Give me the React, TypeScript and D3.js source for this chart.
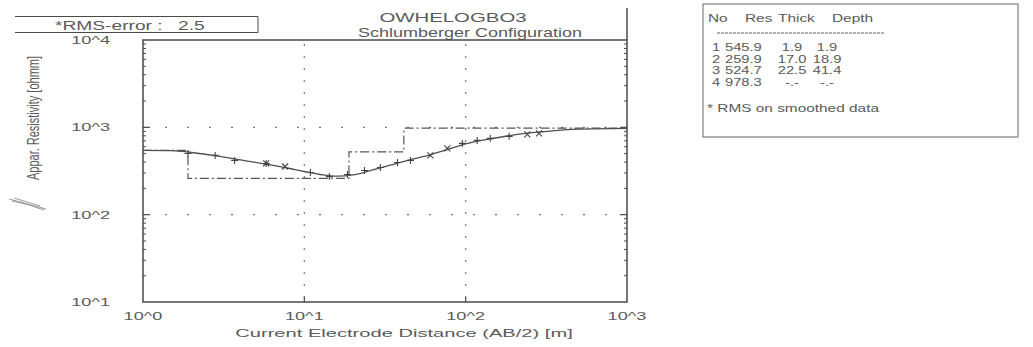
import React from "react";
import * as d3 from "d3";

// Observed apparent resistivity (field sounding)
const abHalf = [1.9, 2.8, 3.7, 5.8, 7.6, 10.9, 14.3, 18.5, 23.6, 29.6, 37.8, 45.5, 60.4, 77, 95.4, 118, 142, 186, 241, 285];
const appRes = [502, 477, 418, 386, 356, 304, 273, 288, 320, 347, 396, 418, 477, 574, 655, 709, 748, 788, 831, 853];
const markerKind = ["+", "+", "+", "*", "x", "+", "+", "+", "+", "+", "+", "+", "x", "x", "+", "+", "+", "+", "x", "x"];

// Calculated model response
const curveAB = [1, 1.5, 2, 3, 4, 6, 8, 10, 13, 16, 20, 25, 30, 40, 50, 60, 80, 100, 150, 200, 300, 500, 1000];
const curveRho = [546, 542, 515, 465, 425, 375, 340, 312, 285, 276, 285, 315, 345, 400, 445, 485, 570, 645, 750, 820, 890, 955, 975];

// Layered model
const layerNo = ["1", "2", "3", "4"];
const layerRes = [545.9, 259.9, 524.7, 978.3];
const layerThick = ["1.9", "17.0", "22.5", "-.-"];
const layerDepth = ["1.9", "18.9", "41.4", "-.-"];
const depths = [1.9, 18.9, 41.4];

const xTicks = [1, 10, 100, 1000];
const xTickLabels = ["10^0", "10^1", "10^2", "10^3"];
const yTicks = [10000, 1000, 100, 10];
const yTickLabels = ["10^4", "10^3", "10^2", "10^1"];

const rmsError = "2.5";
const siteName = "OWHELOGBO3";
const configName = "Schlumberger Configuration";

const INK = "#4a4a4a";
const TXT = "#5a5a5a";
const FONT = "'Liberation Sans', Arial, sans-serif";

function SText(props: {
  x: number; y: number; children: string; size?: number; sx?: number;
  anchor?: "start" | "middle" | "end"; rotate?: number;
}) {
  const { x, y, children, size = 11, sx = 1.65, anchor = "start", rotate = 0 } = props;
  return (
    <text
      transform={`translate(${x},${y}) scale(${sx},1)${rotate ? ` rotate(${rotate})` : ""}`}
      textAnchor={anchor}
      fontSize={size}
      fontFamily={FONT}
      fill={TXT}
    >
      {children}
    </text>
  );
}

export default function App() {
  const left = 143, right = 627, top = 40, bottom = 302;
  const x = d3.scaleLog().domain([1, 1000]).range([left, right]);
  const y = d3.scaleLog().domain([10, 10000]).range([bottom, top]);

  const curve = d3
    .line<number>()
    .x((_, i) => x(curveAB[i]))
    .y((d) => y(d))
    .curve(d3.curveMonotoneX)(curveRho) as string;

  // Step outline of the layered model
  const stepPts: [number, number][] = [];
  let xs = 1;
  layerRes.forEach((r, i) => {
    const xe = i < depths.length ? depths[i] : 1000;
    stepPts.push([x(xs), y(r)], [x(xe), y(r)]);
    xs = xe;
  });
  const step = d3.line()(stepPts) as string;

  const minorTicks: number[] = [];
  for (let e = 1; e < 10000; e *= 10) for (let k = 2; k <= 9; k++) minorTicks.push(e * k);

  return (
    <svg
      width={1033}
      height={347}
      style={{ position: "absolute", left: 0, top: 0, background: "#fff" }}
    >
      <rect width={1033} height={347} fill="#fff" />

      {/* RMS error box */}
      <path d="M15,16.5 H258 V32.5 H15" fill="none" stroke={INK} strokeWidth={1} />
      <SText x={55} y={30} size={12} sx={1.6}>*RMS-error :</SText>
      <SText x={178} y={30} size={12} sx={1.6}>{rmsError}</SText>

      {/* titles */}
      <SText x={453} y={22} size={12} sx={1.7} anchor="middle">{siteName}</SText>
      <SText x={470} y={37} size={12} sx={1.5} anchor="middle">{configName}</SText>

      {/* dotted grid */}
      {[1000, 100].map((v) => (
        <line key={"gy" + v} x1={left} x2={right} y1={y(v)} y2={y(v)} stroke="#777" strokeWidth={1.2} strokeDasharray="2,20" />
      ))}
      {[10, 100].map((v) => (
        <line key={"gx" + v} x1={x(v)} x2={x(v)} y1={top + 4} y2={bottom} stroke="#777" strokeWidth={1.2} strokeDasharray="2,10" />
      ))}

      {/* axis minor ticks */}
      {minorTicks.filter((v) => v > 10 && v < 10000).map((v) => (
        <g key={"mt" + v}>
          <line x1={left} x2={left + 3} y1={y(v)} y2={y(v)} stroke={INK} strokeWidth={1} />
          <line x1={right} x2={right - 3} y1={y(v)} y2={y(v)} stroke={INK} strokeWidth={1} />
        </g>
      ))}
      {[1000, 100].map((v) => (
        <g key={"mj" + v}>
          <line x1={left} x2={left + 7} y1={y(v)} y2={y(v)} stroke={INK} strokeWidth={1.2} />
          <line x1={right} x2={right - 7} y1={y(v)} y2={y(v)} stroke={INK} strokeWidth={1.2} />
        </g>
      ))}
      {[10, 100].map((v) => (
        <line key={"bx" + v} x1={x(v)} x2={x(v)} y1={bottom} y2={bottom - 5} stroke={INK} strokeWidth={1.2} />
      ))}

      {/* plot frame */}
      <rect x={left} y={top} width={right - left} height={bottom - top} fill="none" stroke={INK} strokeWidth={1.5} />
      <line x1={right} x2={right} y1={8} y2={top} stroke={INK} strokeWidth={1.5} />

      {/* layered model */}
      <path d={step} fill="none" stroke="#555" strokeWidth={1.2} strokeDasharray="9,3,2,3" />

      {/* calculated curve */}
      <path d={curve} fill="none" stroke="#505050" strokeWidth={1.3} />

      {/* observed points */}
      {abHalf.map((a, i) => {
        const cx = x(a), cy = y(appRes[i]);
        const k = markerKind[i];
        const plus = `M${cx - 3.5},${cy}H${cx + 3.5}M${cx},${cy - 3.5}V${cy + 3.5}`;
        const cross = `M${cx - 3},${cy - 3}L${cx + 3},${cy + 3}M${cx - 3},${cy + 3}L${cx + 3},${cy - 3}`;
        const d = k === "+" ? plus : k === "x" ? cross : plus + cross;
        return <path key={"p" + i} d={d} stroke="#444" strokeWidth={1.1} fill="none" />;
      })}

      {/* tick labels */}
      {yTicks.map((v, i) => (
        <SText key={"yl" + v} x={110} y={y(v) + 4} size={11} anchor="end">{yTickLabels[i]}</SText>
      ))}
      {xTicks.map((v, i) => (
        <SText key={"xl" + v} x={x(v)} y={320} size={11} anchor="middle">{xTickLabels[i]}</SText>
      ))}

      {/* axis titles */}
      <SText x={404} y={337} size={11.5} sx={1.75} anchor="middle">Current Electrode Distance (AB/2) [m]</SText>
      <SText x={39} y={118} size={11} sx={1.5} anchor="middle" rotate={-90}>Appar. Resistivity [ohmm]</SText>

      {/* pen mark */}
      <g stroke="#999" strokeWidth={1} fill="none">
        <path d="M9,199 L46,209" />
        <path d="M14,198 L40,206" />
        <path d="M20,202 L44,210" />
        <path d="M12,201 L30,205" />
      </g>

      {/* layer table */}
      <rect x={703} y={4} width={315} height={133} fill="none" stroke="#666" strokeWidth={1} />
      <SText x={708} y={22} size={11} sx={1.4}>No</SText>
      <SText x={745} y={22} size={11} sx={1.4}>Res</SText>
      <SText x={778} y={22} size={11} sx={1.4}>Thick</SText>
      <SText x={832} y={22} size={11} sx={1.4}>Depth</SText>
      <line x1={717} x2={885} y1={33} y2={33} stroke="#666" strokeWidth={1} strokeDasharray="3,1" />
      {layerNo.map((n, i) => {
        const by = 51 + i * 11.7;
        return (
          <g key={"row" + n}>
            <SText x={712} y={by} size={10.5} sx={1.4}>{n}</SText>
            <SText x={725} y={by} size={10.5} sx={1.4}>{layerRes[i].toFixed(1)}</SText>
            <SText x={792} y={by} size={10.5} sx={1.4} anchor="middle">{layerThick[i]}</SText>
            <SText x={827} y={by} size={10.5} sx={1.4} anchor="middle">{layerDepth[i]}</SText>
          </g>
        );
      })}
      <SText x={707} y={112} size={11} sx={1.4}>* RMS on smoothed data</SText>
    </svg>
  );
}
